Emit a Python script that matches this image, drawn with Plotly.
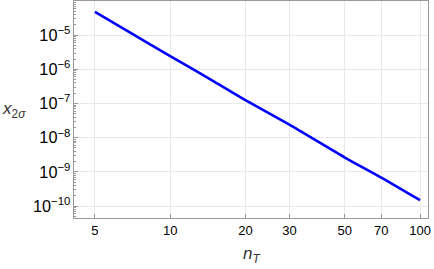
import plotly.graph_objects as go

n_T = [5, 7, 10, 15, 20, 30, 50, 70, 100]
x_2sigma = [4.8e-5, 1.12e-5, 2.45e-6, 4.4e-7, 1.26e-7, 2.4e-8, 2.63e-9, 6.8e-10, 1.48e-10]
x_tickvals = [5, 10, 20, 30, 50, 70, 100]
x_ticktext = ["5", "10", "20", "30", "50", "70", "100"]

fig = go.Figure()
fig.add_trace(go.Scatter(x=n_T, y=x_2sigma, mode="lines",
                         line=dict(color="#0000ff", width=2.6, shape="spline", smoothing=0.6),
                         showlegend=False))

axis_common = dict(showline=True, linecolor="#999999", linewidth=1, mirror=True,
                   showgrid=True, gridcolor="#e8e8e8", gridwidth=1, automargin=False,
                   ticks="inside", ticklen=4, tickcolor="#999999", zeroline=False,
                   tickfont=dict(family="Liberation Sans, Arial", size=13, color="black"))

fig.update_xaxes(type="log", range=[0.615, 2.032], tickvals=x_tickvals, ticktext=x_ticktext,
                 **axis_common)
fig.update_yaxes(type="log", range=[-10.35, -4.0], dtick=1, exponentformat="power",
                 minor=dict(ticks="inside", ticklen=2, tickcolor="#999999", showgrid=False),
                 **axis_common)

fig.add_annotation(text="<i>n</i><sub><i>T</i></sub>", xref="paper", yref="paper",
                   x=0.5, y=-0.17, xanchor="center", yanchor="middle", showarrow=False,
                   font=dict(family="Liberation Sans, Arial", size=17, color="#333333"))
fig.add_annotation(text="<i>x</i><sub>2<i>σ</i></sub>", xref="paper", yref="paper",
                   x=-0.17, y=0.5, xanchor="center", yanchor="middle", showarrow=False,
                   font=dict(family="Liberation Sans, Arial", size=17, color="#333333"))

fig.update_layout(width=434, height=269, margin=dict(l=74, r=6, t=1, b=51),
                  paper_bgcolor="white", plot_bgcolor="white")
fig.write_html("out.html", config={"displayModeBar": False},
               post_script="document.body.style.margin='0px';document.body.style.overflow='hidden';")
